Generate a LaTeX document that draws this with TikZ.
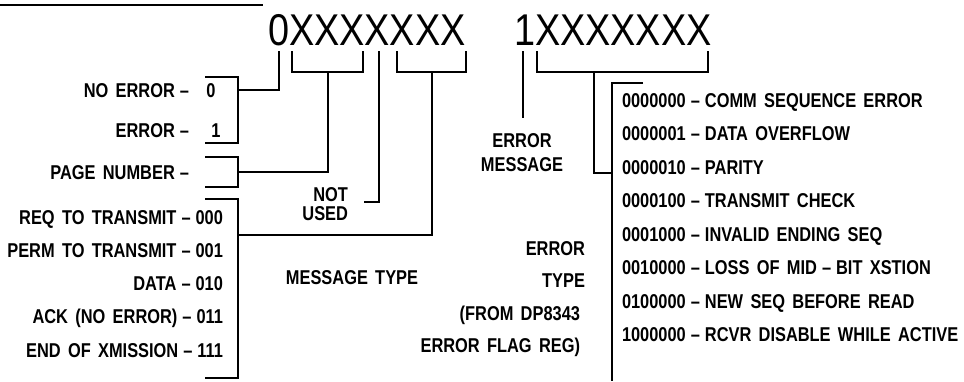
\documentclass[tikz,border=0pt]{standalone}
\usepackage{fontspec}
\setmainfont{Liberation Sans}
\newfontfamily\lblfont{Liberation Sans}[FakeStretch=0.82, WordSpace=1.6]
\newfontfamily\bigfont{Liberation Sans}[FakeStretch=0.85]
\newcommand\dsh{\hspace{5pt}–\hspace{5pt}}
\tikzset{
  lbl/.style={font=\lblfont\bfseries\fontsize{20}{22}\selectfont, inner sep=0pt, outer sep=0pt},
  big/.style={font=\bigfont\fontsize{44.5}{48}\selectfont, inner sep=0pt, outer sep=0pt},
  wire/.style={line width=1.2pt, line cap=butt, line join=miter}
}
\begin{document}
\begin{tikzpicture}[x=1pt,y=-1pt]
\useasboundingbox (0,0) rectangle (964,381);
% big words
\node[big, anchor=base west] (w0) at (268,45) {0XXXXXXX};
\node[big, anchor=base west] (w1) at (514,45) {1XXXXXXX};
% left labels
\node[lbl, anchor=base east] (noerr) at (189,97) {NO ERROR\dsh};
\node[lbl, anchor=base] (zero) at (211,97) {0};
\node[lbl, anchor=base east] (err) at (189,137) {ERROR\dsh};
\node[lbl, anchor=base] (one) at (216,137) {1};
\node[lbl, anchor=base east] (page) at (189,179) {PAGE NUMBER\dsh};
\node[lbl, anchor=base east] (req) at (223,224) {REQ TO TRANSMIT\dsh000};
\node[lbl, anchor=base east] (perm) at (223,257.5) {PERM TO TRANSMIT\dsh{}001};
\node[lbl, anchor=base east] (data) at (223,290.5) {DATA\dsh010};
\node[lbl, anchor=base east] (ack) at (223,323) {ACK (NO ERROR)\dsh011};
\node[lbl, anchor=base east] (eom) at (223,357) {END OF XMISSION\dsh111};
% middle labels
\node[lbl, anchor=base east] (not) at (348,201) {NOT};
\node[lbl, anchor=base east] (used) at (348,220) {USED};
\node[lbl, anchor=base] (msgtype) at (352,284) {MESSAGE TYPE};
\node[lbl, anchor=base] (emsg1) at (522,147) {ERROR};
\node[lbl, anchor=base] (emsg2) at (522,171) {MESSAGE};
\node[lbl, anchor=base east] (et1) at (585,255) {ERROR};
\node[lbl, anchor=base east] (et2) at (585,287) {TYPE};
\node[lbl, anchor=base east] (et3) at (580,320) {(FROM DP8343};
\node[lbl, anchor=base east] (et4) at (580,352) {ERROR FLAG REG)};
% right list
\node[lbl, anchor=base west] (r0) at (622,107) {0000000\dsh COMM SEQUENCE ERROR};
\node[lbl, anchor=base west] (r1) at (622,140.5) {0000001\dsh DATA OVERFLOW};
\node[lbl, anchor=base west] (r2) at (622,174) {0000010\dsh PARITY};
\node[lbl, anchor=base west] (r3) at (622,207.5) {0000100\dsh TRANSMIT CHECK};
\node[lbl, anchor=base west] (r4) at (622,241) {0001000\dsh INVALID ENDING SEQ};
\node[lbl, anchor=base west] (r5) at (622,274.5) {0010000\dsh LOSS OF MID\dsh BIT XSTION};
\node[lbl, anchor=base west] (r6) at (622,308) {0100000\dsh NEW SEQ BEFORE READ};
\node[lbl, anchor=base west] (r7) at (622,341.5) {1000000\dsh RCVR DISABLE WHILE ACTIVE};
% coordinates
\coordinate (tl0) at (0,5);
\coordinate (tl1) at (263,5);
\coordinate (b0top) at (279,51);
\coordinate (b0bot) at (279,90);
\coordinate (eb0) at (238,90);
\coordinate (ebA) at (205,77);
\coordinate (ebB) at (238,77);
\coordinate (ebC) at (238,143);
\coordinate (ebD) at (205,143);
\coordinate (pgA) at (292,51);
\coordinate (pgB) at (292,72);
\coordinate (pgC) at (363,72);
\coordinate (pgD) at (363,51);
\coordinate (pgS) at (328,72);
\coordinate (pgT) at (328,172);
\coordinate (pgE) at (238,172);
\coordinate (pbA) at (205,157);
\coordinate (pbB) at (238,157);
\coordinate (pbC) at (238,187);
\coordinate (pbD) at (205,187);
\coordinate (nuA) at (379,51);
\coordinate (nuB) at (379,202);
\coordinate (nuC) at (364,202);
\coordinate (mtA) at (397,51);
\coordinate (mtB) at (397,72);
\coordinate (mtC) at (466,72);
\coordinate (mtD) at (466,51);
\coordinate (mtS) at (432,72);
\coordinate (mtT) at (432,235);
\coordinate (mtE) at (238,235);
\coordinate (mbA) at (205,199);
\coordinate (mbB) at (238,199);
\coordinate (mbC) at (238,378);
\coordinate (mbD) at (205,378);
\coordinate (e1A) at (523,51);
\coordinate (e1B) at (523,118);
\coordinate (etA) at (537,51);
\coordinate (etB) at (537,72);
\coordinate (etC) at (708,72);
\coordinate (etD) at (708,51);
\coordinate (etS) at (594,72);
\coordinate (etT) at (594,173);
\coordinate (etE) at (612,173);
\coordinate (rbA) at (643,83);
\coordinate (rbB) at (612,83);
\coordinate (rbC) at (612,381);
% wires
\draw[wire] (tl0) -- (tl1);
\draw[wire] (b0top) -- (b0bot) -- (eb0);
\draw[wire] (ebA) -- (ebB) -- (ebC) -- (ebD);
\draw[wire] (pgA) -- (pgB) -- (pgC) -- (pgD);
\draw[wire] (pgS) -- (pgT) -- (pgE);
\draw[wire] (pbA) -- (pbB) -- (pbC) -- (pbD);
\draw[wire] (nuA) -- (nuB) -- (nuC);
\draw[wire] (mtA) -- (mtB) -- (mtC) -- (mtD);
\draw[wire] (mtS) -- (mtT) -- (mtE);
\draw[wire] (mbA) -- (mbB) -- (mbC) -- (mbD);
\draw[wire] (e1A) -- (e1B);
\draw[wire] (etA) -- (etB) -- (etC) -- (etD);
\draw[wire] (etS) -- (etT) -- (etE);
\draw[wire] (rbA) -- (rbB) -- (rbC);
\end{tikzpicture}
\end{document}
